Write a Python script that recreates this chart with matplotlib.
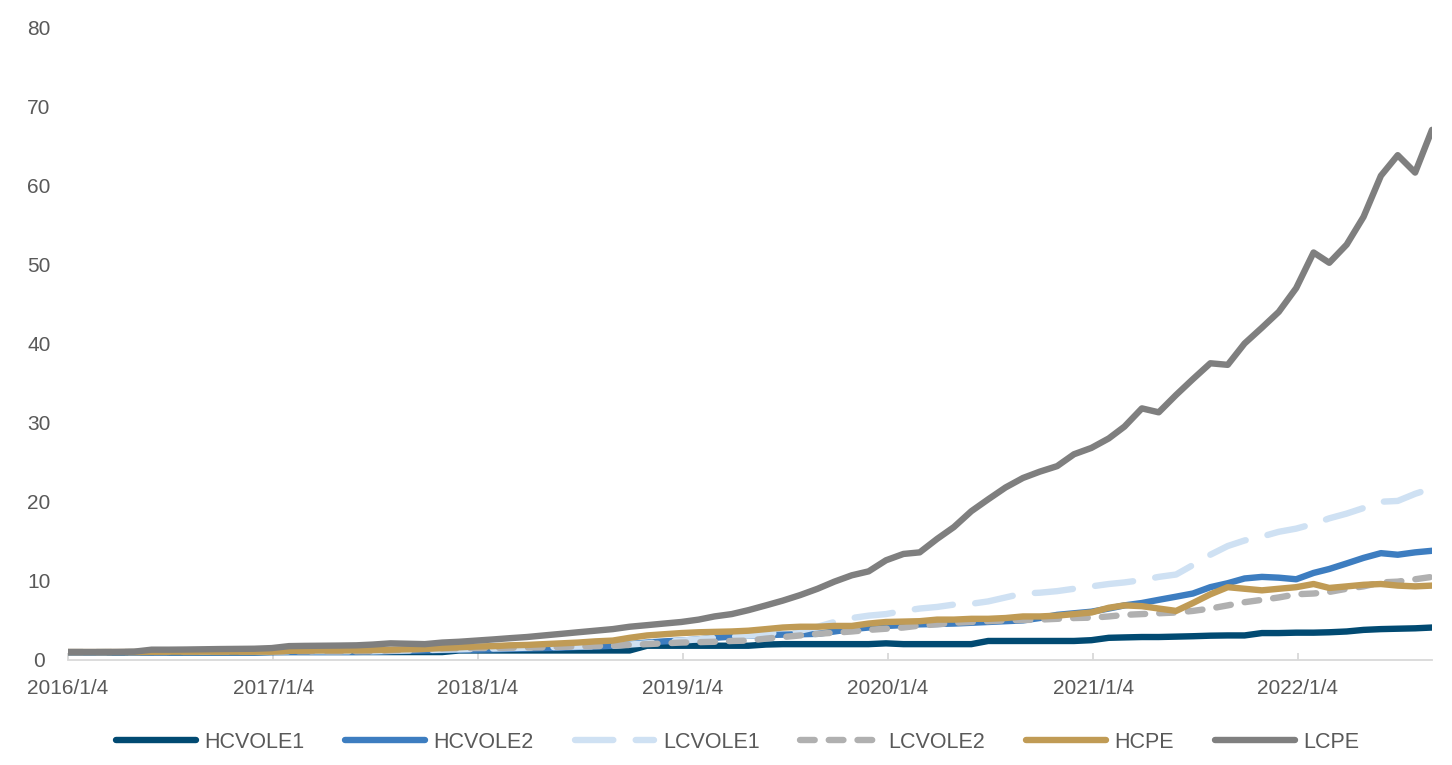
import numpy as np
import pandas as pd
import matplotlib
matplotlib.use('Agg')
import matplotlib.pyplot as plt

plt.rcParams['font.family'] = ['Liberation Sans', 'DejaVu Sans']

# monthly samples, last point is the end of the series
dates = pd.to_datetime(['2016-01-04'] +
                       [d.strftime('%Y-%m-%d') for d in pd.date_range('2016-02-01', '2022-08-01', freq='MS')] +
                       ['2022-08-31'])

hcvole1 = [0.95, 0.95, 0.95, 0.95, 0.95, 0.95, 0.95, 0.95, 0.95, 0.95,
           0.95, 0.95, 1.00, 1.00, 1.00, 1.00, 1.00, 1.00, 1.00, 1.00,
           1.00, 1.00, 1.00, 1.20, 1.20, 1.20, 1.20, 1.20, 1.20, 1.20,
           1.20, 1.20, 1.20, 1.20, 1.80, 1.80, 1.80, 1.80, 1.80, 1.80,
           1.80, 1.95, 2.00, 2.00, 2.00, 2.00, 2.00, 2.00, 2.10, 2.00,
           2.00, 2.00, 2.00, 2.00, 2.40, 2.40, 2.40, 2.40, 2.40, 2.40,
           2.50, 2.80, 2.85, 2.90, 2.90, 2.95, 3.00, 3.07, 3.10, 3.10,
           3.40, 3.40, 3.45, 3.45, 3.50, 3.60, 3.80, 3.90, 3.95, 4.00,
           4.10]
hcvole2 = [0.95, 0.95, 0.95, 0.95, 0.95, 0.95, 0.97, 0.97, 0.97, 0.97,
           0.97, 0.97, 1.00, 1.02, 1.02, 1.02, 1.02, 1.02, 1.05, 1.10,
           1.15, 1.20, 1.25, 1.28, 1.30, 1.35, 1.40, 1.45, 1.50, 1.55,
           1.65, 1.70, 1.80, 2.00, 2.20, 2.35, 2.45, 2.60, 2.80, 2.95,
           3.10, 3.15, 3.20, 3.25, 3.30, 3.60, 3.90, 4.10, 4.30, 4.40,
           4.50, 4.55, 4.60, 4.70, 4.80, 4.90, 5.00, 5.30, 5.70, 5.90,
           6.10, 6.50, 6.90, 7.20, 7.60, 8.00, 8.40, 9.20, 9.70, 10.30,
           10.50, 10.40, 10.20, 11.00, 11.50, 12.20, 12.90, 13.50, 13.30, 13.60,
           13.80]
lcvole1 = [1.00, 1.00, 1.00, 1.00, 1.01, 1.02, 1.02, 1.03, 1.03, 1.04,
           1.04, 1.05, 1.05, 1.10, 1.10, 1.10, 1.10, 1.10, 1.10, 1.15,
           1.20, 1.25, 1.30, 1.35, 1.40, 1.45, 1.50, 1.55, 1.60, 1.65,
           1.70, 1.75, 1.80, 1.95, 2.10, 2.30, 2.45, 2.60, 2.80, 2.95,
           3.10, 3.30, 3.50, 3.70, 4.20, 4.80, 5.30, 5.60, 5.80, 6.20,
           6.50, 6.70, 7.00, 7.10, 7.40, 7.90, 8.40, 8.50, 8.70, 9.00,
           9.30, 9.60, 9.80, 10.10, 10.50, 10.80, 12.00, 13.30, 14.40, 15.10,
           15.60, 16.20, 16.60, 17.20, 17.90, 18.50, 19.20, 20.00, 20.10, 21.00,
           21.70]
lcvole2 = [1.00, 1.00, 1.00, 1.00, 1.01, 1.01, 1.02, 1.02, 1.03, 1.03,
           1.04, 1.04, 1.05, 1.10, 1.10, 1.10, 1.10, 1.10, 1.10, 1.20,
           1.30, 1.40, 1.45, 1.48, 1.50, 1.52, 1.55, 1.58, 1.60, 1.65,
           1.70, 1.75, 1.80, 1.90, 2.00, 2.10, 2.20, 2.25, 2.30, 2.40,
           2.45, 2.70, 2.90, 3.10, 3.30, 3.45, 3.60, 3.80, 3.95, 4.10,
           4.35, 4.50, 4.70, 4.80, 4.90, 5.00, 5.05, 5.10, 5.20, 5.30,
           5.35, 5.50, 5.70, 5.80, 5.90, 6.00, 6.20, 6.50, 6.90, 7.30,
           7.60, 7.90, 8.30, 8.40, 8.60, 9.00, 9.30, 9.80, 9.90, 10.20,
           10.50]
hcpe = [1.00, 1.00, 1.00, 1.00, 1.00, 1.02, 1.05, 1.05, 1.05, 1.05,
        1.05, 1.05, 1.05, 1.15, 1.18, 1.20, 1.20, 1.22, 1.25, 1.30,
        1.35, 1.40, 1.50, 1.60, 1.70, 1.75, 1.85, 1.90, 2.00, 2.10,
        2.20, 2.35, 2.45, 2.80, 3.10, 3.25, 3.40, 3.50, 3.55, 3.60,
        3.70, 3.90, 4.10, 4.20, 4.20, 4.30, 4.30, 4.60, 4.80, 4.85,
        4.90, 5.10, 5.10, 5.20, 5.20, 5.30, 5.50, 5.50, 5.60, 5.80,
        6.00, 6.60, 6.90, 6.80, 6.50, 6.20, 7.20, 8.30, 9.20, 9.00,
        8.80, 9.00, 9.20, 9.60, 9.10, 9.30, 9.50, 9.60, 9.40, 9.30,
        9.40]
lcpe = [1.00, 1.00, 1.00, 1.02, 1.05, 1.30, 1.30, 1.32, 1.35, 1.38,
        1.40, 1.42, 1.50, 1.75, 1.78, 1.80, 1.82, 1.85, 1.95, 2.10,
        2.05, 2.00, 2.20, 2.30, 2.45, 2.60, 2.75, 2.90, 3.10, 3.30,
        3.50, 3.70, 3.90, 4.20, 4.40, 4.60, 4.80, 5.10, 5.50, 5.80,
        6.30, 6.90, 7.50, 8.20, 9.00, 9.90, 10.70, 11.20, 12.60, 13.40,
        13.60, 15.30, 16.80, 18.80, 20.30, 21.80, 23.00, 23.80, 24.50, 26.00,
        26.80, 28.00, 29.50, 31.80, 31.30, 33.50, 35.50, 37.50, 37.30, 40.00,
        42.00, 44.00, 47.00, 51.50, 50.20, 52.50, 56.00, 61.20, 63.80, 61.60,
        67.00]

names = ['HCVOLE1', 'HCVOLE2', 'LCVOLE1', 'LCVOLE2', 'HCPE', 'LCPE']
series = [hcvole1, hcvole2, lcvole1, lcvole2, hcpe, lcpe]
colors = ['#014A72', '#3D7DC0', '#CFE1F3', '#B0B0B0', '#C09B55', '#7F7F7F']
dash_styles = [None, None, (6, 3.5), (2.3, 2.2), None, None]

ticks = pd.to_datetime(['2016-01-04', '2017-01-04', '2018-01-04', '2019-01-04',
                        '2020-01-04', '2021-01-04', '2022-01-04'])
tick_labels = ['2016/1/4', '2017/1/4', '2018/1/4', '2019/1/4',
               '2020/1/4', '2021/1/4', '2022/1/4']

fig = plt.figure(figsize=(14.52, 7.65), dpi=100)
ax = fig.add_axes([0.0468, 0.1373, 0.9394, 0.8274])

lw = 4.6
handles = []
for name, vals, c, ds in zip(names, series, colors, dash_styles):
    if ds is None:
        ln, = ax.plot(dates, vals, color=c, lw=lw, label=name,
                      solid_capstyle='round', solid_joinstyle='round')
    else:
        ln, = ax.plot(dates, vals, color=c, lw=lw, label=name,
                      dashes=ds, dash_capstyle='round', dash_joinstyle='round')
    handles.append(ln)

ax.set_ylim(0, 80)
ax.set_yticks(np.arange(0, 81, 10))
ax.set_xlim(pd.Timestamp('2016-01-04'), pd.Timestamp('2022-08-31'))
ax.set_xticks(ticks)
ax.set_xticklabels(tick_labels)

for s in ['top', 'right', 'left']:
    ax.spines[s].set_visible(False)
ax.spines['bottom'].set_color('#D9D9D9')
ax.spines['bottom'].set_linewidth(1.3)

ax.tick_params(axis='y', length=0, pad=21, labelsize=15, labelcolor='#595959')
for t in ax.get_yticklabels():
    t.set_horizontalalignment('center')
ax.tick_params(axis='x', direction='in', length=5, width=1.3, color='#D9D9D9',
               pad=14, labelsize=15, labelcolor='#595959')

fig.legend(handles=handles, labels=names, loc='center', bbox_to_anchor=(0.508, 0.03),
           ncol=6, frameon=False, fontsize=15.5, labelcolor='#595959',
           handlelength=3.7, handletextpad=0.4, columnspacing=1.9)

fig.savefig('out.png', dpi=100, facecolor='white')
